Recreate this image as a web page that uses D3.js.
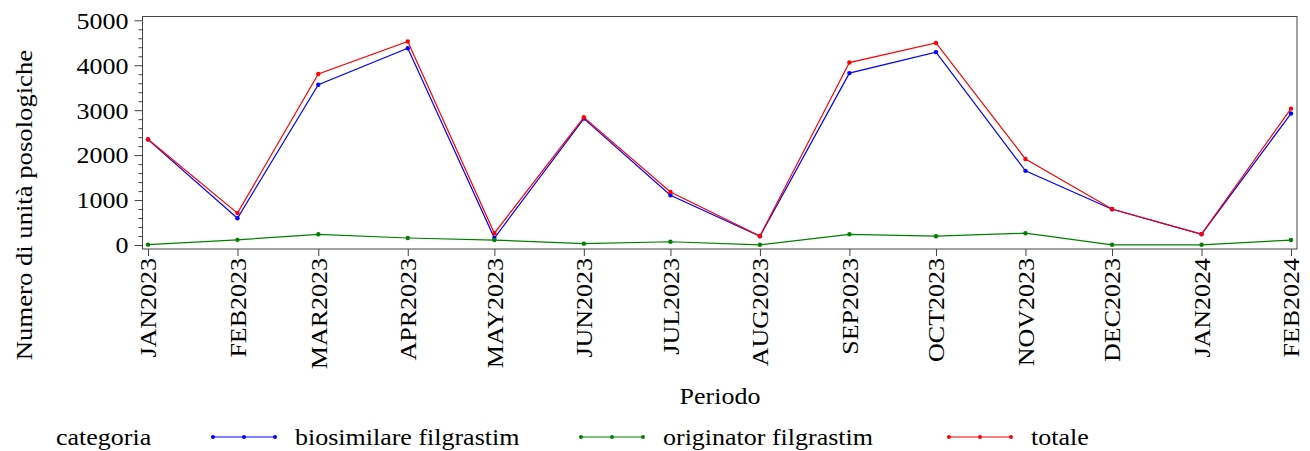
<!DOCTYPE html>
<html>
<head>
<meta charset="utf-8">
<script src="https://cdn.jsdelivr.net/npm/d3@7"></script>
<style>
  body { margin: 0; background: #fff; }
  text { font-family: "Liberation Serif", "Times New Roman", serif; fill: #000; }
</style>
</head>
<body>
<div id="chart"></div>
<script>
// months (first day) and their labels
var months = ["2023-01-01","2023-02-01","2023-03-01","2023-04-01","2023-05-01","2023-06-01","2023-07-01",
              "2023-08-01","2023-09-01","2023-10-01","2023-11-01","2023-12-01","2024-01-01","2024-02-01"];
var monthLabels = ["JAN2023","FEB2023","MAR2023","APR2023","MAY2023","JUN2023","JUL2023",
                   "AUG2023","SEP2023","OCT2023","NOV2023","DEC2023","JAN2024","FEB2024"];

var biosimilare = [2345, 595, 3567, 4377, 155, 2812, 1108, 195, 3825, 4292, 1650, 795, 240, 2925];
var originator  = [8, 115, 238, 156, 110, 30, 72, 5, 238, 196, 262, 5, 5, 110];
var totale      = [2355, 710, 3805, 4530, 262, 2842, 1178, 200, 4060, 4495, 1915, 800, 245, 3035];

var seriesNames = ["biosimilare filgrastim", "originator filgrastim", "totale"];
var seriesColors = ["#0000ff", "#008000", "#ff0000"];
var yTicks = [0, 1000, 2000, 3000, 4000, 5000];

function init() {
    chart();
}

function chart() {
    var w = 1310;
    var h = 451;
    var sx = 1.13; // text is a little wider than normal

    var parse = d3.timeParse("%Y-%m-%d");
    var dates = months.map(parse);

    var x = d3.scaleTime()
        .domain([dates[0], dates[dates.length - 1]])
        .range([148, 1291]);

    var y = d3.scaleLinear()
        .domain([0, 5000])
        .range([245, 20.3]);

    var svg = d3.select("#chart")
        .append("svg")
        .attr("width", w)
        .attr("height", h);

    // frame
    svg.append("rect")
        .attr("x", 142.5)
        .attr("y", 16.5)
        .attr("width", 1297 - 142.5)
        .attr("height", 249 - 16.5)
        .attr("fill", "none")
        .attr("stroke", "#444")
        .attr("stroke-width", 1);

    // y axis with minor ticks
    var minor = d3.range(0, 5001, 200).filter(function (d) { return d % 1000 != 0; });
    svg.append("g")
        .attr("transform", "translate(142.5,0)")
        .call(d3.axisLeft(y).tickValues(minor).tickSize(4).tickFormat(""))
        .call(function (g) { g.select(".domain").remove(); })
        .selectAll("line").attr("stroke", "#444");

    var yAxis = svg.append("g")
        .attr("transform", "translate(142.5,0)")
        .call(d3.axisLeft(y).tickValues(yTicks).tickSize(8).tickFormat(d3.format("d")));
    yAxis.select(".domain").remove();
    yAxis.selectAll("line").attr("stroke", "#444");
    yAxis.selectAll("text")
        .attr("x", null)
        .attr("dy", "0.34em")
        .attr("transform", function () { return "translate(-14,0) scale(" + sx + ",1)"; })
        .style("font-size", "23px")
        .style("font-family", "'Liberation Serif', 'Times New Roman', serif")
        .attr("fill", "#000");

    // x axis
    var xAxis = svg.append("g")
        .attr("transform", "translate(0,249)")
        .call(d3.axisBottom(x).tickValues(dates).tickSize(7)
            .tickFormat(function (d, i) { return monthLabels[i]; }));
    xAxis.select(".domain").remove();
    xAxis.selectAll("line").attr("stroke", "#444");
    xAxis.selectAll("text")
        .attr("x", null)
        .attr("y", null)
        .attr("dy", "0.34em")
        .attr("text-anchor", "end")
        .attr("transform", "translate(0,9) rotate(-90) scale(" + sx + ",1)")
        .style("font-size", "23px")
        .style("font-family", "'Liberation Serif', 'Times New Roman', serif")
        .attr("fill", "#000");

    // axis titles
    svg.append("text")
        .attr("text-anchor", "middle")
        .attr("transform", "translate(32,205) rotate(-90) scale(1.16,1)")
        .style("font-size", "23px")
        .text("Numero di unità posologiche");

    svg.append("text")
        .attr("text-anchor", "middle")
        .attr("transform", "translate(720,404) scale(" + sx + ",1)")
        .style("font-size", "23px")
        .text("Periodo");

    // lines
    var allSeries = [biosimilare, originator, totale];
    var line = d3.line()
        .x(function (d, i) { return x(dates[i]); })
        .y(function (d) { return y(d); });

    allSeries.forEach(function (s, k) {
        svg.append("path")
            .datum(s)
            .attr("d", line)
            .attr("fill", "none")
            .attr("stroke", seriesColors[k])
            .attr("stroke-width", 1.2);

        svg.selectAll(".pt" + k)
            .data(s)
            .enter()
            .append("circle")
            .attr("class", "pt" + k)
            .attr("cx", function (d, i) { return x(dates[i]); })
            .attr("cy", function (d) { return y(d); })
            .attr("r", 2.2)
            .attr("fill", seriesColors[k]);
    });

    // legend
    var legend = svg.append("g").attr("transform", "translate(0,437)");
    legend.append("text")
        .attr("transform", "translate(56,8) scale(" + sx + ",1)")
        .style("font-size", "23px")
        .text("categoria");

    var legX = [211, 579, 947];
    seriesNames.forEach(function (name, k) {
        var g = legend.append("g").attr("transform", "translate(" + legX[k] + ",0)");
        g.append("line")
            .attr("x1", 0).attr("x2", 65)
            .attr("y1", 0).attr("y2", 0)
            .attr("stroke", seriesColors[k])
            .attr("stroke-width", 1.2);
        g.selectAll("circle")
            .data([2, 33, 64])
            .enter()
            .append("circle")
            .attr("cx", function (d) { return d; })
            .attr("cy", 0)
            .attr("r", 2)
            .attr("fill", seriesColors[k]);
        g.append("text")
            .attr("transform", "translate(84,8) scale(" + sx + ",1)")
            .style("font-size", "23px")
            .text(name);
    });
}

window.onload = init;
</script>
</body>
</html>
